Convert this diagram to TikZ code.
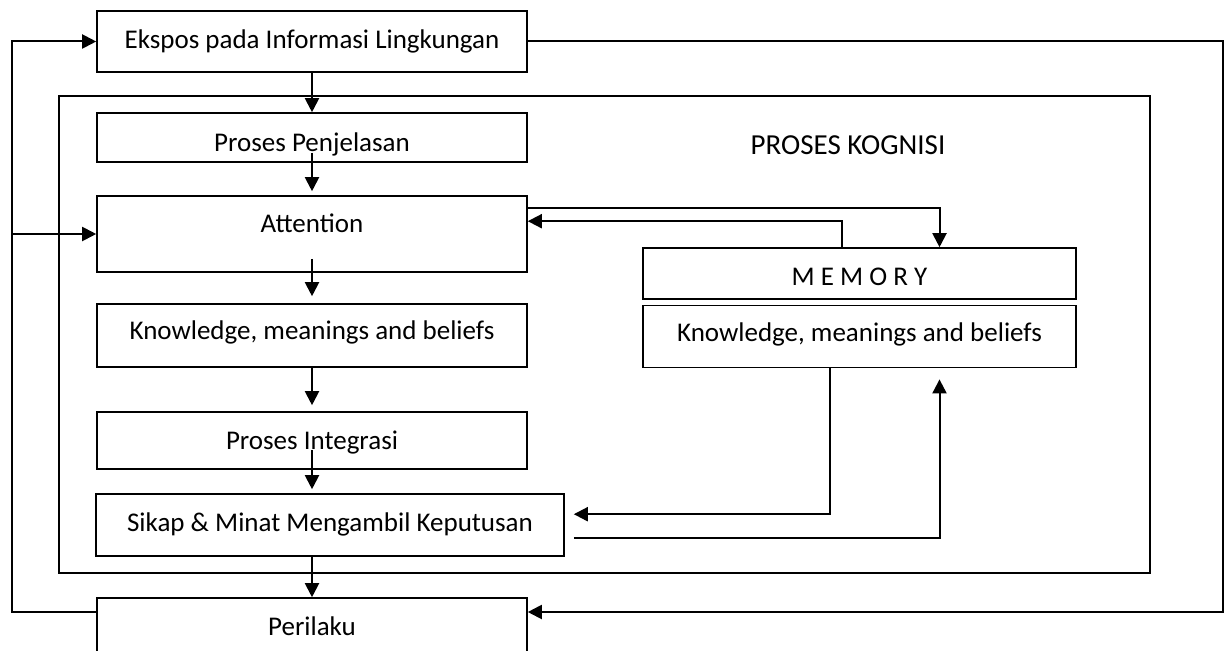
\documentclass[tikz,border=0pt]{standalone}
\usepackage{fontspec}
\setmainfont{Carlito}
\usetikzlibrary{positioning, arrows.meta, calc}
\tikzset{
    box/.style={draw, line width=1.6pt, minimum width=430pt, inner sep=0pt, text height=18pt, text depth=7pt},
    flow_arrow/.style={line width=2pt, -{Triangle[length=14pt, width=14pt]}},
    link/.style={line width=1.6pt},
    title label/.style={anchor=base, font=\fontsize{29}{32}\selectfont}
}

\begin{document}
\begin{tikzpicture}[x=1pt, y=-1pt, font=\fontsize{27}{30}\selectfont]
    \useasboundingbox (0,0) rectangle (1230,650);
    \clip (0,0) rectangle (1230,650);

    % --- Frame for the cognition process ---
    \draw[link] (59,96) rectangle (1150,573);
    \node (kognisi) [title label] at (848,154) {PROSES KOGNISI};

    % --- Nodes for the main column ---
    \node (ekspos) [box, minimum height=61pt, text depth=3pt] at (312,41.5) {Ekspos pada Informasi Lingkungan};
    \node (penjelasan) [box, minimum height=49pt, text height=30pt, text depth=2pt] at (312,137.5) {Proses Penjelasan};
    \node (attention) [box, minimum height=76pt, text depth=22pt] at (312,234) {Attention};
    \node (knowl) [box, minimum height=63pt, text depth=10pt] at (312,335.5) {Knowledge, meanings and beliefs};
    \node (integrasi) [box, minimum height=57pt, text depth=1pt] at (312,440.5) {Proses Integrasi};
    \node (sikap) [box, minimum width=468pt, minimum height=62pt, text depth=6pt] at (330,525) {Sikap \& Minat Mengambil Keputusan};
    \node (perilaku) [box, minimum height=66pt, text depth=10pt] at (312,631) {Perilaku};

    % --- Nodes for Memory ---
    \node (memory) [box, minimum width=433pt, minimum height=51pt, text height=30pt] at (859.5,273.5) {M E M O R Y};
    \node (knowr) [box, minimum width=433pt, minimum height=62pt, text depth=8pt, below=5pt of memory] {Knowledge, meanings and beliefs};

    % --- Main flow ---
    \draw[flow_arrow] (ekspos) -- (penjelasan);
    \draw[flow_arrow] ([yshift=10pt]penjelasan.south) -- ([yshift=4pt]attention.north);
    \draw[flow_arrow] ([yshift=14pt]attention.south) -- ([yshift=7pt]knowl.north);
    \draw[flow_arrow] (knowl.south) -- ([yshift=6pt]integrasi.north);
    \draw[flow_arrow] ([yshift=20pt]integrasi.south) -- ([yshift=4pt]integrasi.south |- sikap.north);
    \draw[flow_arrow] (sikap.south -| perilaku) -- (perilaku);

    % --- Feedback loops ---
    \coordinate (loopR) at (1223,612);
    \coordinate (loopL) at (12,612);
    \draw[flow_arrow] (ekspos.east) -| (loopR) -- (loopR -| perilaku.east);
    \draw[flow_arrow] (loopL -| perilaku.west) -- (loopL) |- (ekspos.west);
    \draw[flow_arrow] (loopL |- attention.west) -- (attention.west);

    % --- Memory links ---
    \draw[flow_arrow] ([yshift=-13pt]attention.north east) -| ([xshift=80pt]memory.north);
    \draw[flow_arrow] ([xshift=-18pt]memory.north) |- ([yshift=-26pt]attention.north east);
    \draw[flow_arrow] ([xshift=-30pt]knowr.south) |- ([xshift=9pt, yshift=-21pt]sikap.north east);
    \draw[flow_arrow] ([xshift=9pt, yshift=-45pt]sikap.north east) -| ([xshift=80pt, yshift=-11pt]knowr.south);
\end{tikzpicture}
\end{document}
